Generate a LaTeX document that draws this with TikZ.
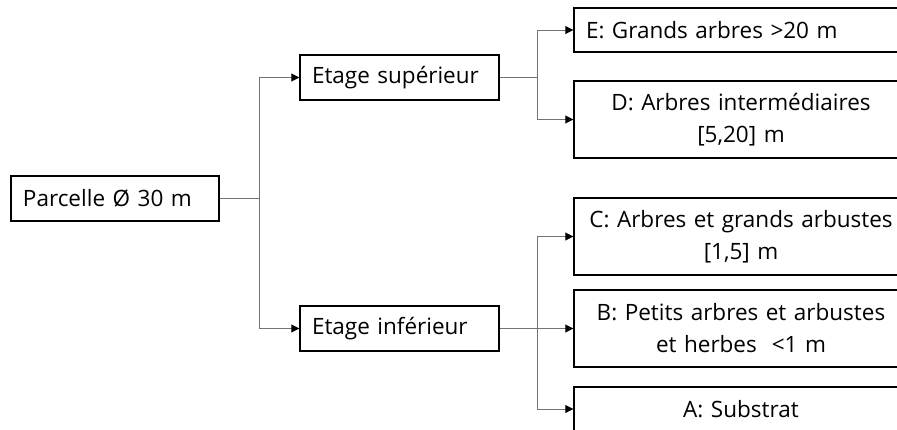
\documentclass[tikz,border=0pt]{standalone}
\usepackage{fontspec}
\setmainfont{Open Sans}
\usetikzlibrary{arrows.meta}
\begin{document}
\begin{tikzpicture}[x=1pt,y=-1pt,
  box/.style={draw=black, line width=1.4pt, inner sep=0pt, font=\fontsize{22.5}{32}\selectfont},
  lbox/.style={box, align=left, inner xsep=12pt},
  rbox/.style={box, align=center, minimum width=360pt, text width=340pt},
  conn/.style={draw=black!55, line width=0.9pt, -{Triangle[length=8pt,width=8pt,color=black]}}]
\useasboundingbox (0,0) rectangle (897,429);
\clip (0,0) rectangle (897,429);
\node[lbox, text width=184pt, minimum height=45pt] (parcelle) at (115,198.5) {Parcelle Ø 30 m};
\node[lbox, text width=175pt, minimum height=45pt] (sup) at (399.5,77.5) {Etage supérieur};
\node[lbox, text width=175pt, minimum height=45pt] (inf) at (399.5,328.5) {Etage inférieur};
\node[lbox, text width=336pt, minimum height=44pt] (E) at (754,30) {E: Grands arbres >20 m};
\node[rbox, minimum height=77pt] (D) at (754,119.5) {\hspace*{-26pt}D: Arbres intermédiaires\\\hspace*{-26pt}{[5,20]} m};
\node[rbox, minimum height=77pt] (C) at (754,236.5) {\hspace*{-26pt}C: Arbres et grands arbustes\\\hspace*{-26pt}{[1,5]} m};
\node[rbox, minimum height=77pt] (B) at (754,328.5) {\hspace*{-26pt}B: Petits arbres et arbustes\\\hspace*{-26pt}et herbes\ \ <1 m};
\node[rbox, minimum height=44pt] (A) at (754,409) {\hspace*{-26pt}A: Substrat};
\draw[conn] (parcelle.east) -- ++(40,0) |- (sup.west);
\draw[conn] (parcelle.east) -- ++(40,0) |- (inf.west);
\draw[conn] (sup.east) -- ++(38,0) |- (E.west);
\draw[conn] (sup.east) -- ++(38,0) |- (D.west);
\draw[conn] (inf.east) -- ++(38,0) |- (C.west);
\draw[conn] (inf.east) -- (B.west);
\draw[conn] (inf.east) -- ++(38,0) |- (A.west);
\end{tikzpicture}
\end{document}
